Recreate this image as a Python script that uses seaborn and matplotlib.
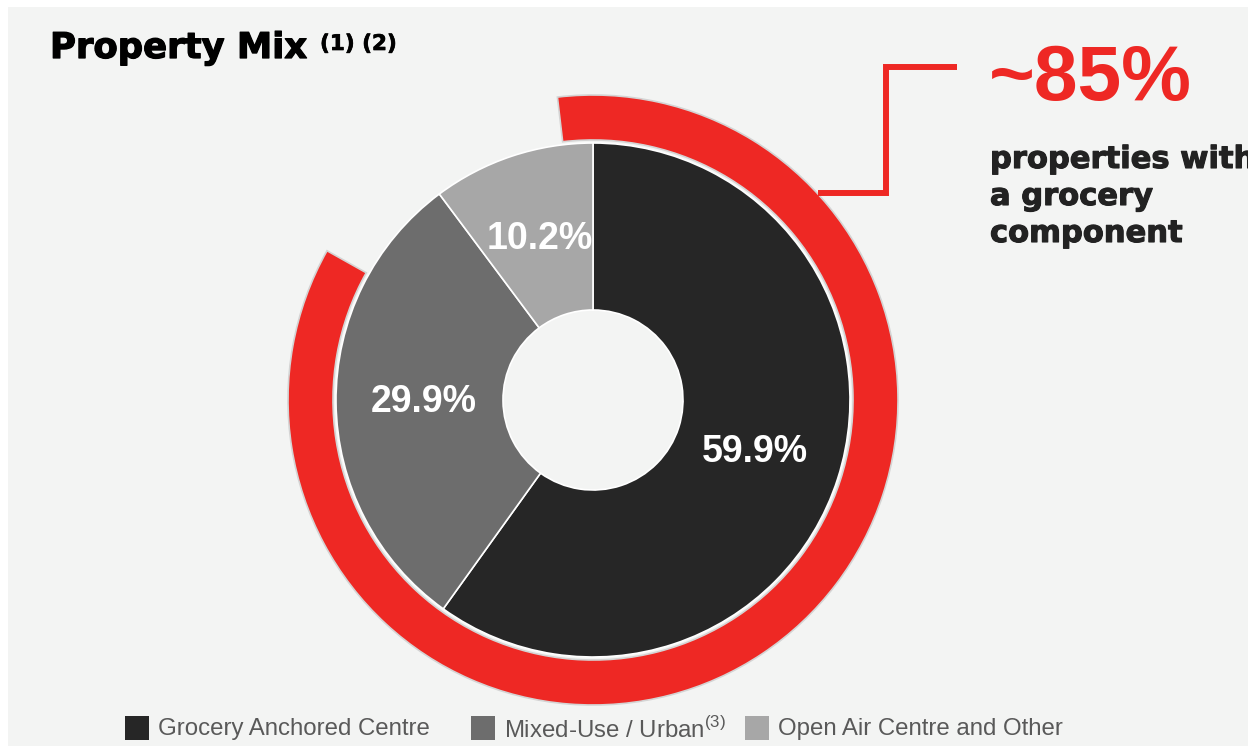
import matplotlib
matplotlib.use("Agg")
import matplotlib.pyplot as plt
from matplotlib.patches import Rectangle
import matplotlib.patheffects as pe
import seaborn as sns

# ---- data ----
categories = ["Grocery Anchored Centre", "Mixed-Use / Urban", "Open Air Centre and Other"]
shares = [59.9, 29.9, 10.2]
grocery_share = 85  # ~85% properties with a grocery component
headline = "~85%"
side_lines = ["properties with", "a grocery", "component"]
title = "Property Mix"
title_notes = "(1) (2)"
legend_notes = ["", "(3)", ""]

# ---- style ----
sns.set_theme(style="white")
plt.rcParams["font.family"] = ["Liberation Sans", "DejaVu Sans"]
plt.rcParams["mathtext.fontset"] = "custom"
plt.rcParams["mathtext.rm"] = "Liberation Sans"

BG = "#f3f4f3"
RED = "#ee2824"
seg_colors = ["#262626", "#6d6d6d", "#a7a7a7"]
W, H = 1248, 746

fig = plt.figure(figsize=(W / 100, H / 100), dpi=100, facecolor="white")
ax = fig.add_axes([0, 0, 1, 1])
ax.set_facecolor("none")
ax.add_patch(Rectangle((8, 0), W - 8, H - 7, facecolor=BG, edgecolor="none", zorder=0))

cx, cy = 593, H - 400

# outer red ring (~85%)
ring, _ = ax.pie([grocery_share, 100 - grocery_share], colors=[RED, BG],
                 startangle=96.7, counterclock=False, radius=305, center=(cx, cy),
                 wedgeprops=dict(width=45, edgecolor="#d4d4d4", linewidth=1.2))
ring[1].set_visible(False)

# main donut
wedges, texts, autotexts = ax.pie(
    shares, colors=seg_colors, startangle=90, counterclock=False,
    radius=257, center=(cx, cy), autopct="%.1f%%", pctdistance=0.66,
    wedgeprops=dict(width=257 - 90, edgecolor="white", linewidth=1.2))
for t in autotexts:
    t.set_color("white")
    t.set_fontsize(27)
    t.set_fontweight("bold")
    t.set_family(["Liberation Sans", "DejaVu Sans"])

# connector line
ax.plot([818, 886, 886, 957], [H - 193, H - 193, H - 67, H - 67],
        color=RED, lw=4.3, solid_joinstyle="miter", solid_capstyle="butt", zorder=3)

heavy_dark = [pe.withStroke(linewidth=0.8, foreground="#222222")]
heavy_black = [pe.withStroke(linewidth=0.9, foreground="black")]

# headline
ax.text(989, H - 100, headline, color=RED, fontsize=56.5, fontweight="bold",
        ha="left", va="baseline", family=["Liberation Sans", "DejaVu Sans"])
for i, line in enumerate(side_lines):
    ax.text(990, H - 168 - 37 * i, line, color="#222222", fontsize=22,
            fontweight="bold", ha="left", va="baseline", family=["DejaVu Sans"],
            path_effects=heavy_dark)

# title
ax.text(50, H - 58, title, color="black", fontsize=25.5, fontweight="bold",
        ha="left", va="baseline", family=["DejaVu Sans"], path_effects=heavy_black)
ax.text(320, H - 50, title_notes, color="black", fontsize=15.5, fontweight="bold",
        ha="left", va="baseline", family=["DejaVu Sans"],
        path_effects=[pe.withStroke(linewidth=0.5, foreground="black")])

# legend
leg_sq_x = [125, 471, 745]
for i, (cat, col) in enumerate(zip(categories, seg_colors)):
    ax.add_patch(Rectangle((leg_sq_x[i], H - 740), 24, 24, facecolor=col, edgecolor="none", zorder=3))
    label = cat + (r"$^{" + legend_notes[i] + r"}$" if legend_notes[i] else "")
    ax.text(leg_sq_x[i] + 33, H - 727, label, color="#595959", fontsize=17.3,
            ha="left", va="center_baseline")

ax.set_xlim(0, W)
ax.set_ylim(0, H)
ax.set_aspect("equal")
ax.axis("off")
fig.savefig("out.png", dpi=100, facecolor="white")
